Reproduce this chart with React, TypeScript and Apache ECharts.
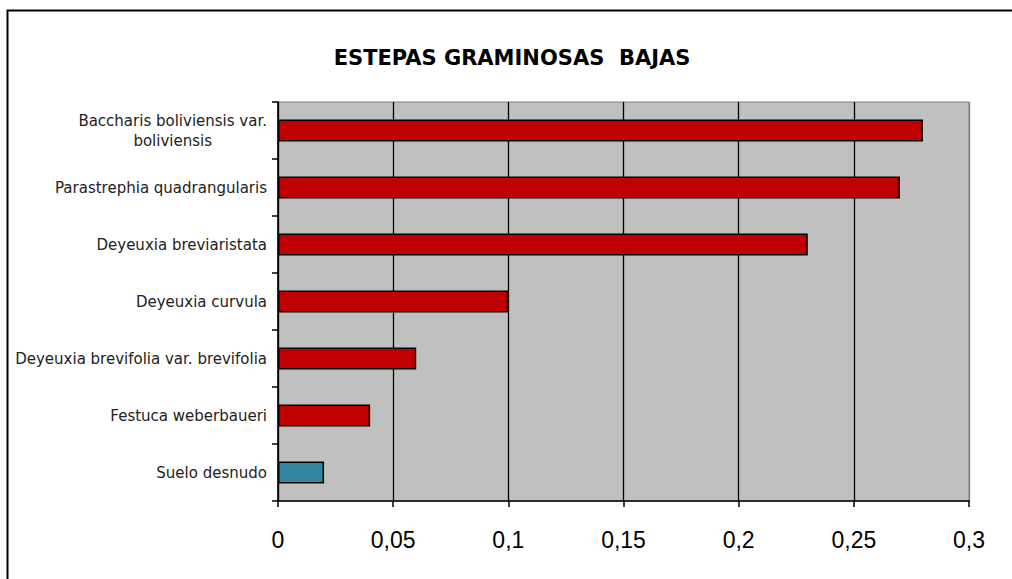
import React, { useEffect, useRef } from "react";
import * as echarts from "echarts";

const title = "ESTEPAS GRAMINOSAS  BAJAS";
const categories = [
  "Baccharis boliviensis var.\nboliviensis",
  "Parastrephia quadrangularis",
  "Deyeuxia breviaristata",
  "Deyeuxia curvula",
  "Deyeuxia brevifolia var. brevifolia",
  "Festuca weberbaueri",
  "Suelo desnudo",
];
const values = [0.28, 0.27, 0.23, 0.1, 0.06, 0.04, 0.02];
const barColors = ["#C00000", "#C00000", "#C00000", "#C00000", "#C00000", "#C00000", "#31849B"];
const xTicks = [0, 0.05, 0.1, 0.15, 0.2, 0.25, 0.3];

export default function App() {
  const ref = useRef<HTMLDivElement>(null);
  useEffect(() => {
    if (!ref.current) return;
    const chart = echarts.init(ref.current, null, { renderer: "svg" });
    chart.setOption({
      animation: false,
      backgroundColor: "#ffffff",
      title: {
        text: title,
        left: 507,
        top: 42,
        textAlign: "center",
        textStyle: { fontFamily: "DejaVu Sans", fontWeight: "bold", fontSize: 21, color: "#000" },
      },
      graphic: [
        {
          type: "rect",
          shape: { x: 7.5, y: 10.5, width: 1040, height: 600 },
          style: { fill: "none", stroke: "#000", lineWidth: 2 },
          silent: true,
        },
      ],
      grid: {
        left: 278,
        right: 43,
        top: 102,
        bottom: 78,
        show: true,
        backgroundColor: "#C0C0C0",
        borderColor: "#808080",
        borderWidth: 1,
      },
      xAxis: {
        type: "value",
        min: xTicks[0],
        max: xTicks[xTicks.length - 1],
        interval: 0.05,
        axisLine: { show: true, lineStyle: { color: "#000", width: 1.5 } },
        axisTick: { show: true, length: 6, lineStyle: { color: "#000", width: 1.5 } },
        axisLabel: {
          fontFamily: "Liberation Sans",
          fontSize: 23,
          color: "#000",
          margin: 27,
          formatter: (v: number) => String(Math.round(v * 100) / 100).replace(".", ","),
        },
        splitLine: {
          show: true,
          lineStyle: {
            color: ["#000", "#000", "#000", "#000", "#000", "#000", "#808080"],
            width: 1.3,
          },
        },
      },
      yAxis: {
        type: "category",
        data: categories,
        inverse: true,
        axisLine: { show: true, lineStyle: { color: "#000", width: 1.5 } },
        axisTick: { show: true, length: 6, lineStyle: { color: "#000", width: 1.5 } },
        axisLabel: {
          fontFamily: "DejaVu Sans",
          fontSize: 15,
          color: "#222",
          margin: 11,
          lineHeight: 20,
          formatter: (v: string) => {
            const parts = v.split("\n");
            if (parts.length === 1) return v;
            return "{a|" + parts[0] + "}\n{b|" + parts[1] + "}";
          },
          rich: {
            a: { fontFamily: "DejaVu Sans", fontSize: 15, color: "#222", lineHeight: 20 },
            b: { fontFamily: "DejaVu Sans", fontSize: 15, color: "#222", lineHeight: 20, width: 188, align: "center" },
          },
        },
        splitLine: { show: false },
      },
      series: [
        {
          type: "bar",
          data: values.map((v, i) => ({ value: v, itemStyle: { color: barColors[i] } })),
          barWidth: 22,
          itemStyle: { borderColor: "#000", borderWidth: 1.5 },
        },
      ],
    });
    return () => chart.dispose();
  }, []);
  return (
    <div
      ref={ref}
      style={{ position: "absolute", left: 0, top: 0, width: 1012, height: 579 }}
    />
  );
}
